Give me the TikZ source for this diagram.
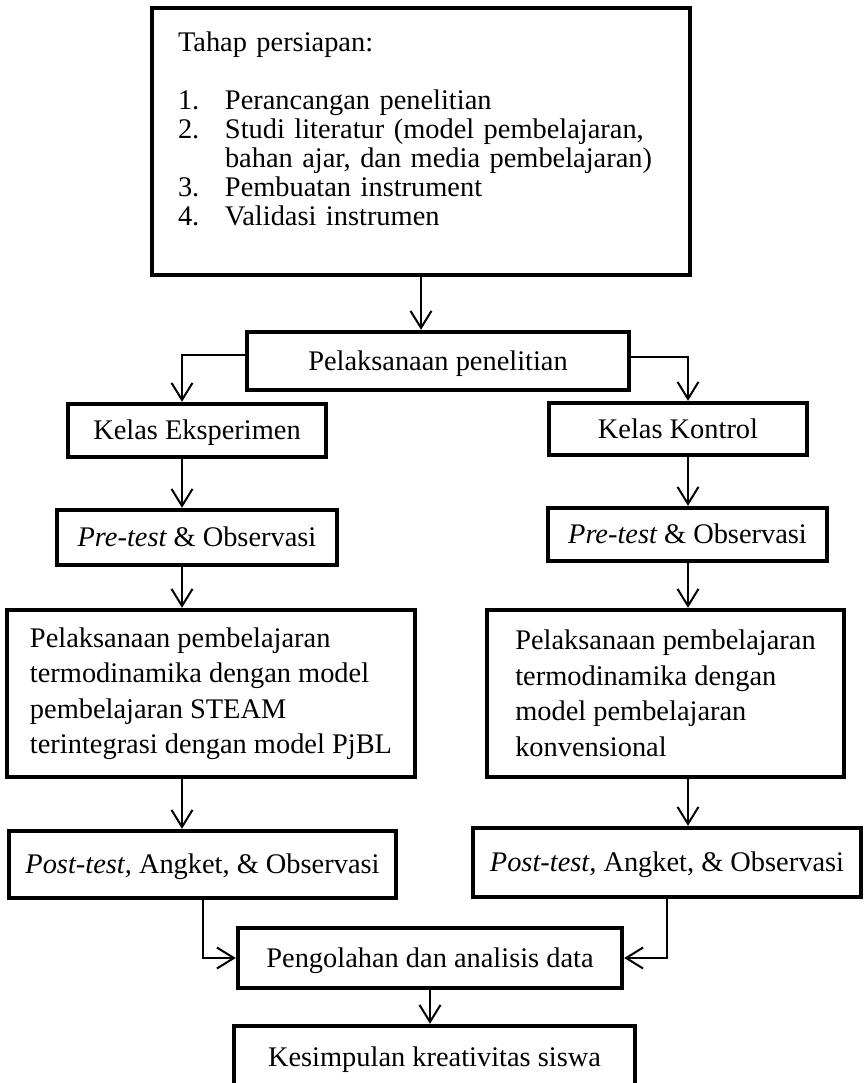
\documentclass[tikz,border=0pt]{standalone}
\usepackage{fontspec}
\setmainfont{Liberation Serif}
\usetikzlibrary{arrows.meta}
\newcommand{\nomor}[1]{\makebox[23.5pt][l]{#1}}
\tikzstyle{block} = [rectangle, draw=black, line width=2.2pt, inner sep=0pt, font=\fontsize{14.2pt}{17.75pt}\selectfont]
\tikzstyle{lineblock} = [block, text height=9.4pt, text depth=0pt]
\tikzstyle{arrow} = [line width=1pt, -{Straight Barb[length=8.5pt, width=10.5pt]}]

\begin{document}
\begin{tikzpicture}[x=0.5pt, y=-0.5pt]

\useasboundingbox (0,0) rectangle (867,1083);
\clip (0,0) rectangle (867,1083);
\coordinate (kiri) at (182,0);
\coordinate (kanan) at (688,0);

\node (persiapan) [block, minimum width=269pt, minimum height=133.5pt, inner xsep=13pt, text width=243pt, align=left, font=\fontsize{14.2pt}{14.5pt}\selectfont] at (421,141.5) {Tahap persiapan:\\[14.5pt]
\nomor{1.}Perancangan penelitian\\
\nomor{2.}Studi literatur (model pembelajaran,\\
\nomor{}bahan ajar, dan media pembelajaran)\\
\nomor{3.}Pembuatan instrument\\
\nomor{4.}Validasi instrumen\rule[-12.5pt]{0pt}{0pt}};
\node (pelaksanaan) [lineblock, minimum width=191pt, minimum height=29pt] at (438,361) {Pelaksanaan penelitian};
\node (eksperimen) [lineblock, minimum width=129pt, minimum height=26.5pt] at (197,430.5) {Kelas Eksperimen};
\node (kontrol) [lineblock, minimum width=129pt, minimum height=26pt] at (678,429) {Kelas Kontrol};
\node (pretesteks) [lineblock, minimum width=140pt, minimum height=27.5pt] at (197,537.5) {\itshape Pre-test \upshape\& Observasi};
\node (pretestkon) [lineblock, minimum width=139.5pt, minimum height=26.5pt] at (687.5,534.5) {\itshape Pre-test \upshape\& Observasi};
\node (stemeks) [block, minimum width=204pt, minimum height=83.5pt, align=left] at (211,693.5) {Pelaksanaan pembelajaran\\termodinamika dengan model\\pembelajaran STEAM\\terintegrasi dengan model PjBL};
\node (stemkon) [block, minimum width=178.5pt, minimum height=83.5pt, align=left] at (665.5,693.5) {Pelaksanaan pembelajaran\\termodinamika dengan\\model pembelajaran\\konvensional};
\node (posttesteks) [lineblock, minimum width=193.5pt, minimum height=33.5pt] at (202.5,864.5) {\itshape Post-test, \upshape Angket, \& Observasi};
\node (posttestkon) [lineblock, minimum width=194pt, minimum height=34.5pt] at (667,862.5) {\itshape Post-test, \upshape Angket, \& Observasi};
\node (olah) [lineblock, minimum width=192pt, minimum height=30pt] at (430,958) {Pengolahan dan analisis data};
\node (simpulan) [lineblock, minimum width=200.5pt, minimum height=31pt] at (434.5,1057) {Kesimpulan kreativitas siswa};

\draw [arrow] (persiapan.south) -- (persiapan.south |- pelaksanaan.north);
\draw [arrow] ([yshift=3pt]pelaksanaan.west) -| (eksperimen.north -| kiri);
\draw [arrow] ([yshift=2pt]pelaksanaan.east) -| (kontrol.north -| kanan);
\draw [arrow] (eksperimen.south -| kiri) -- (pretesteks.north -| kiri);
\draw [arrow] (kontrol.south -| kanan) -- (pretestkon.north -| kanan);
\draw [arrow] (pretesteks.south -| kiri) -- (stemeks.north -| kiri);
\draw [arrow] (pretestkon.south -| kanan) -- (stemkon.north -| kanan);
\draw [arrow] (stemeks.south -| kiri) -- (posttesteks.north -| kiri);
\draw [arrow] (stemkon.south -| kanan) -- (posttestkon.north -| kanan);
\draw [arrow] (posttesteks.south) |- (olah.west);
\draw [arrow] (posttestkon.south) |- (olah.east);
\draw [arrow] (olah.south) -- (olah.south |- simpulan.north);

\end{tikzpicture}
\end{document}
